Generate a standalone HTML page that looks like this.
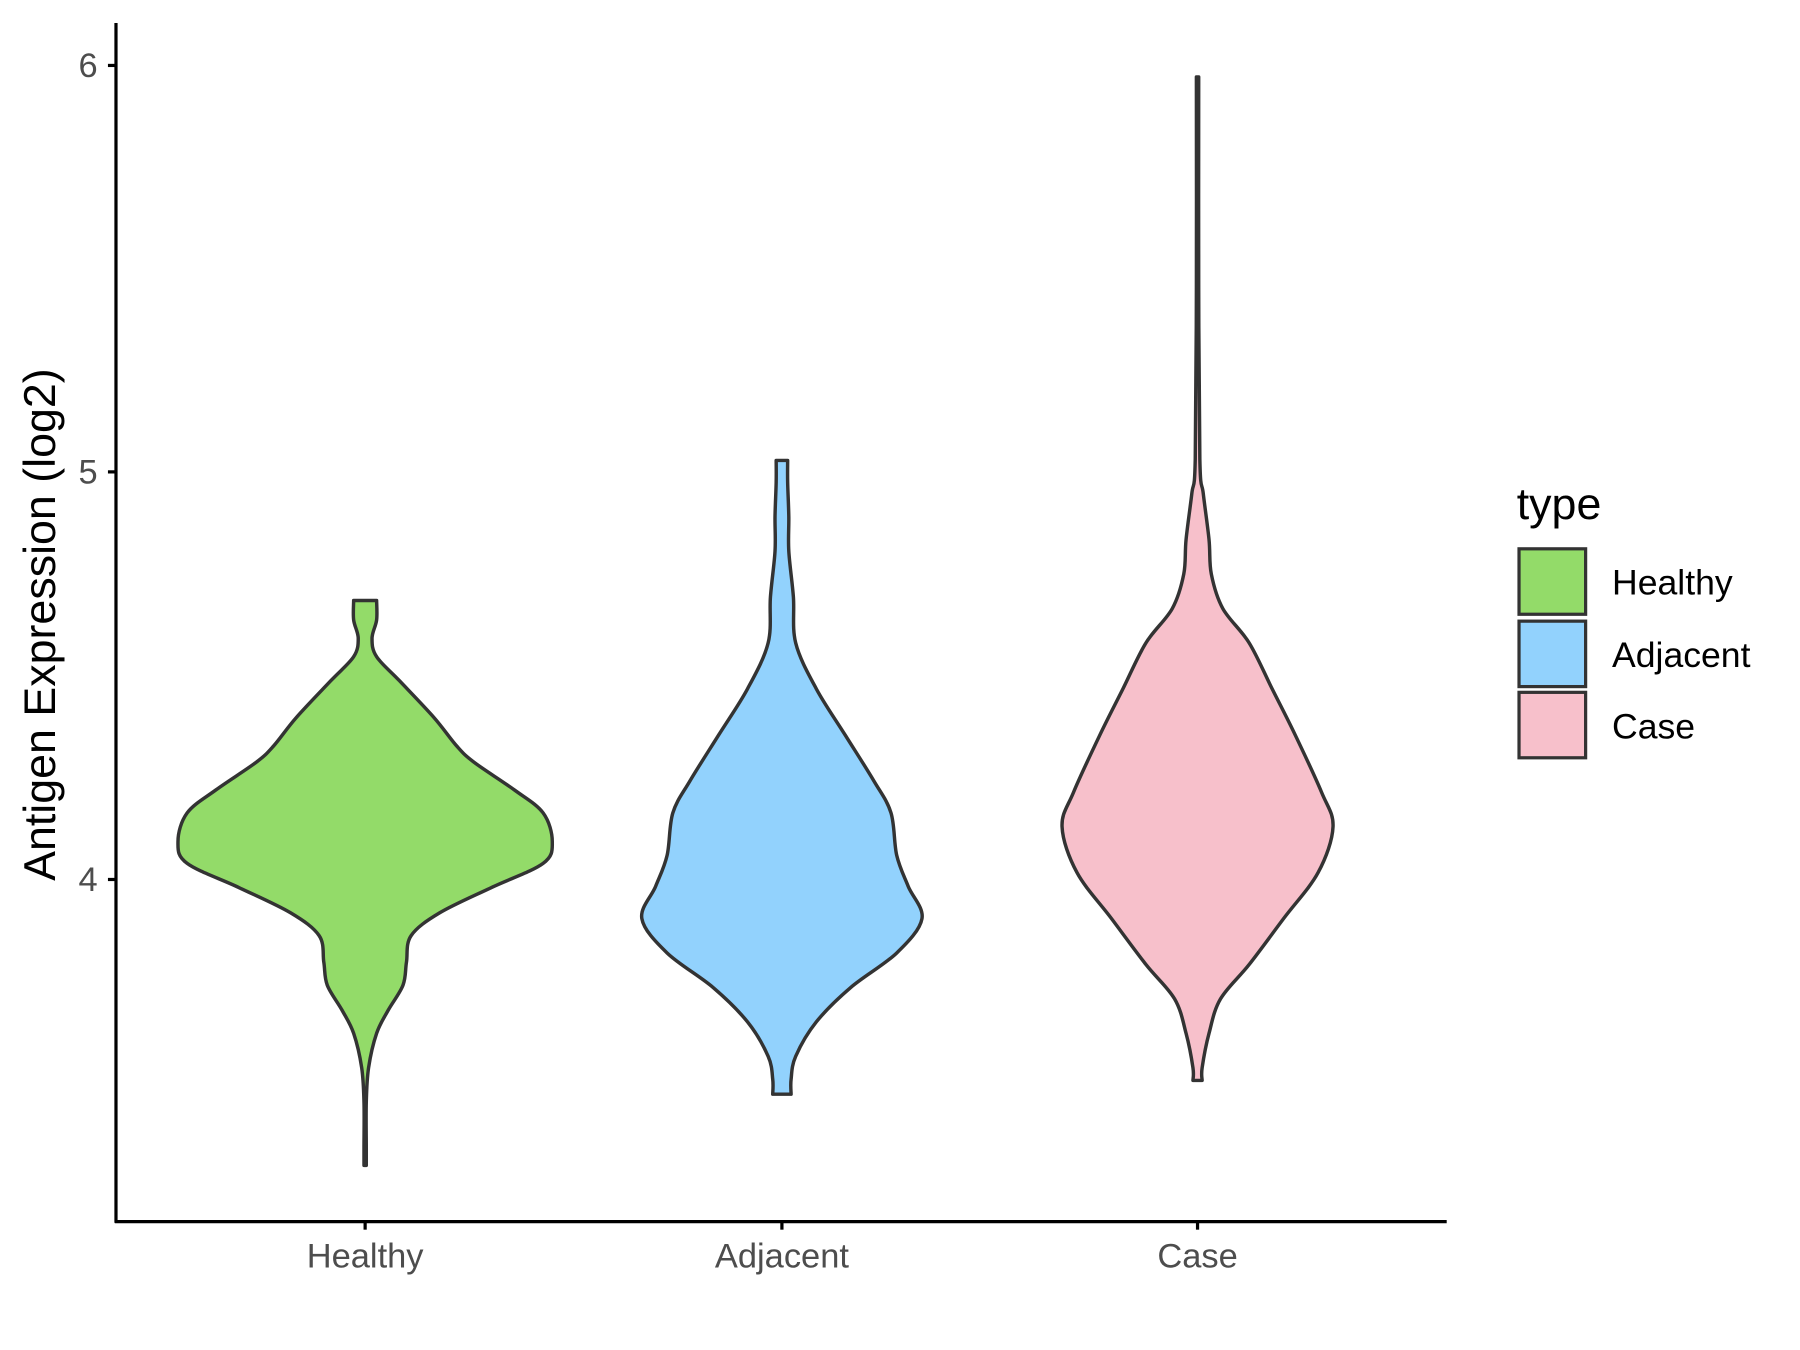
<!DOCTYPE html>
<html><head><meta charset="utf-8"><style>
html,body{margin:0;padding:0;background:#fff;}
svg{display:block;font-family:"Liberation Sans",Arial,sans-serif;}
</style></head><body>
<svg id="s" width="1800" height="1350" viewBox="0 0 1567.7 1175.8" xmlns="http://www.w3.org/2000/svg">
<rect width="1567.7" height="1175.8" fill="#fff"/>
<g id="v"></g>
<g stroke="#000" stroke-width="2.8" fill="none">
<line x1="101" y1="20" x2="101" y2="1065"/>
<line x1="100" y1="1064" x2="1260" y2="1064"/>
<line x1="94" y1="57" x2="101" y2="57"/>
<line x1="94" y1="411" x2="101" y2="411"/>
<line x1="94" y1="766" x2="101" y2="766"/>
<line x1="318" y1="1064" x2="318" y2="1071"/>
<line x1="681" y1="1064" x2="681" y2="1071"/>
<line x1="1043" y1="1064" x2="1043" y2="1071"/>
</g>
<g fill="#4d4d4d" font-size="30">
<text x="85" y="67" text-anchor="end">6</text>
<text x="85" y="421" text-anchor="end">5</text>
<text x="85" y="776" text-anchor="end">4</text>
<text x="318" y="1104" text-anchor="middle">Healthy</text>
<text x="681" y="1104" text-anchor="middle">Adjacent</text>
<text x="1043" y="1104" text-anchor="middle">Case</text>
</g>
<text transform="translate(48,544) rotate(-90)" text-anchor="middle" font-size="39" fill="#000">Antigen Expression (log2)</text>
<text x="1321" y="452" font-size="39" fill="#000">type</text>
<g stroke="#333" stroke-width="2.8">
<rect x="1323" y="478" width="58" height="57" fill="#93DB69"/>
<rect x="1323" y="541" width="58" height="57" fill="#92D2FD"/>
<rect x="1323" y="603" width="58" height="57" fill="#F7C0CB"/>
</g>
<g font-size="31" fill="#000">
<text x="1404" y="518">Healthy</text>
<text x="1404" y="581">Adjacent</text>
<text x="1404" y="643">Case</text>
</g>
</svg>
<script>
function path(cx,pts){
  var r=pts.map(p=>[cx+p[0],p[1]]);
  var l=pts.slice().reverse().map(p=>[cx-p[0],p[1]]);
  function cr(a){
    var d="M"+a[0][0]+","+a[0][1];
    for(var i=0;i<a.length-1;i++){
      var p0=a[Math.max(i-1,0)],p1=a[i],p2=a[i+1],p3=a[Math.min(i+2,a.length-1)];
      d+=" C"+(p1[0]+(p2[0]-p0[0])/6)+","+(p1[1]+(p2[1]-p0[1])/6)+" "+(p2[0]-(p3[0]-p1[0])/6)+","+(p2[1]-(p3[1]-p1[1])/6)+" "+p2[0]+","+p2[1];
    }
    return d;
  }
  var d=cr(r);
  d+=" L"+l[0][0]+","+l[0][1]+cr(l).replace(/^M[^ ]+/,"")+" Z";
  return d;
}
var H=[[10,523],[10,540],[6,556],[10,572],[30,593],[60,625],[80,650],[95,664],[130,688],[155,708],[163,733],[155,752],[110,773],[65,795],[40,815],[36,838],[33,858],[20,880],[10,900],[3,930],[1,960],[1,1000],[1,1015]];
var A=[[5,401],[5,420],[6,450],[6,480],[10,520],[12,560],[30,600],[55,640],[80,680],[95,708],[100,745],[110,772],[122,800],[100,830],[60,860],[30,890],[12,920],[8,940],[8,953]];
var C=[[1,67],[1,250],[2,400],[5,430],[10,470],[12,500],[22,530],[45,560],[65,600],[85,640],[108,690],[118,720],[105,760],[75,800],[45,840],[20,870],[10,900],[4,930],[4,941]];
var g=document.getElementById("v");
[[318,H,"#93DB69"],[681,A,"#92D2FD"],[1043,C,"#F7C0CB"]].forEach(function(o){
  var p=document.createElementNS("http://www.w3.org/2000/svg","path");
  p.setAttribute("d",path(o[0],o[1]));p.setAttribute("fill",o[2]);
  p.setAttribute("stroke","#333");p.setAttribute("stroke-width","3");p.setAttribute("stroke-linejoin","round");
  g.appendChild(p);
});
</script>
</body></html>
